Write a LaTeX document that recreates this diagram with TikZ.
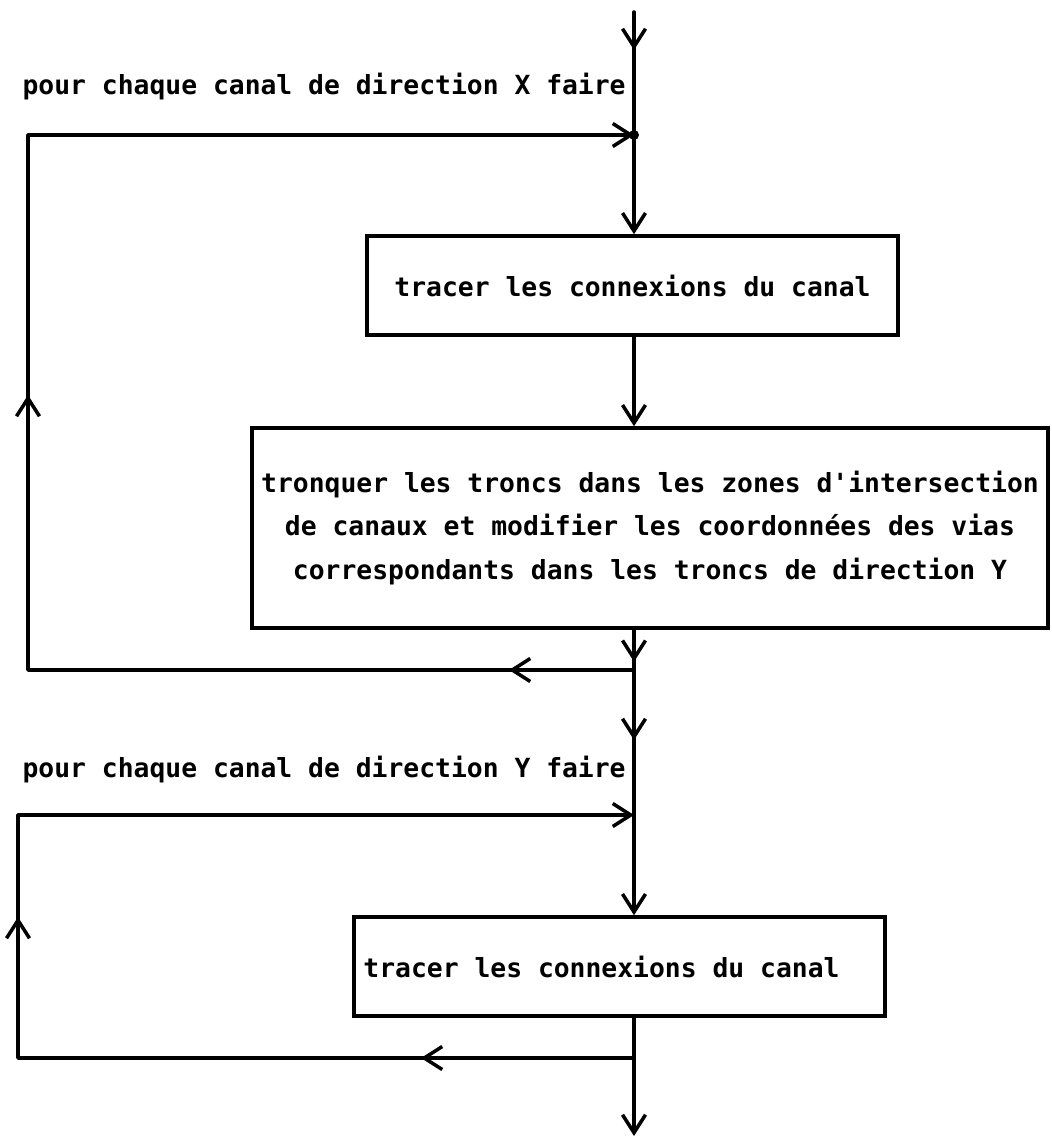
\documentclass[tikz,border=0pt]{standalone}
\usepackage{fontspec}
\setmonofont{DejaVu Sans Mono}
\usetikzlibrary{arrows.meta, decorations.markings, calc}

\begin{document}
\begin{tikzpicture}[
    >={Straight Barb[length=0.36cm, width=0.46cm]},
    trait/.style={line width=2pt, line cap=round, line join=round},
    tache/.style={draw, line width=2pt, minimum width=10.62cm, minimum height=1.98cm, align=center, font=\ttfamily\bfseries\fontsize{15}{24.5}\selectfont},
    etiquette/.style={font=\ttfamily\bfseries\fontsize{15}{24.5}\selectfont, inner sep=0pt},
    milieu/.style={postaction={decorate, decoration={markings, mark=at position #1 with {\arrow{>}}}}}
]
    \useasboundingbox (0,0) rectangle (21.04,-22.8);

    % points de la ligne principale
    \coordinate (debut) at (12.68,-0.24);
    \coordinate (j1) at (12.68,-2.70);
    \coordinate (j2) at (12.68,-13.40);
    \coordinate (j3) at (12.68,-16.30);
    \coordinate (j4) at (12.68,-21.16);
    \coordinate (fin) at (12.68,-22.72);

    % coins des boucles
    \coordinate (c1) at (0.56,-2.70);
    \coordinate (c1b) at (0.56,-13.40);
    \coordinate (c2) at (0.36,-16.30);
    \coordinate (c2b) at (0.36,-21.16);

    % Boucle X
    \node[etiquette, anchor=east] (pourX) at (12.52,-1.74) {pour chaque canal de direction X faire};
    \node[tache] (trac1) at (12.65,-5.71) {tracer les connexions du canal};
    \node[tache, minimum width=15.92cm, minimum height=4.0cm] (tronq) at (13.0,-10.56) {tronquer les troncs dans les zones d'intersection\\de canaux et modifier les coordonnées des vias\\correspondants dans les troncs de direction Y};

    % Boucle Y
    \node[etiquette, anchor=east] (pourY) at (12.52,-15.40) {pour chaque canal de direction Y faire};
    \node[tache] (trac2) at (12.39,-19.33) {tracer les connexions du canal\hspace*{0.72cm}};

    % Fleches
    \draw[trait, milieu=0.76cm] (debut) -- (j1);
    \fill (j1) circle (0.1);
    \draw[trait, ->] (j1) -- (j1 |- trac1.north);
    \draw[trait, ->] (trac1.south -| j1) -- (tronq.north -| j1);
    \draw[trait, milieu=0.64cm] (tronq.south -| j1) -- (j2);
    \draw[trait, ->, milieu=2.5cm, milieu=17.62cm] (j2) -- (c1b) -- (c1) -- (j1);

    \draw[trait, milieu=1.40cm] (j2) -- (j3);
    \draw[trait, ->] (j3) -- (j3 |- trac2.north);
    \draw[trait] (trac2.south -| j3) -- (j4);
    \draw[trait, ->, milieu=4.26cm, milieu=15.14cm] (j4) -- (c2b) -- (c2) -- (j3);
    \draw[trait, ->] (j4) -- (fin);
\end{tikzpicture}
\end{document}
